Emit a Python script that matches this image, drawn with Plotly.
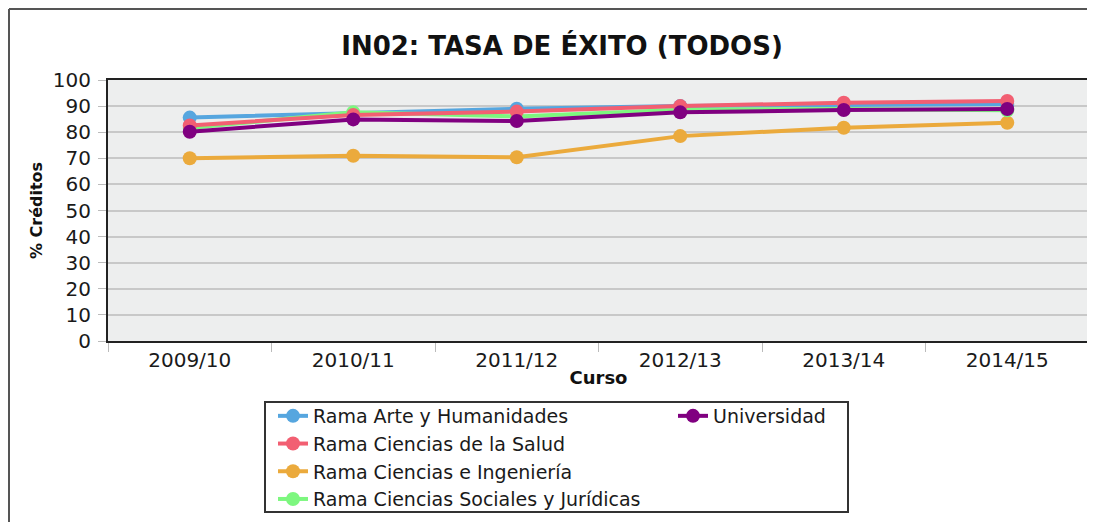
import plotly.graph_objects as go

cursos = ["2009/10", "2010/11", "2011/12", "2012/13", "2013/14", "2014/15"]

arte = [85.6, 87.2, 89.0, 90.0, 90.4, 90.8]
salud = [82.6, 86.6, 87.9, 90.0, 91.3, 92.0]
ingenieria = [70.0, 71.0, 70.4, 78.5, 81.7, 83.6]
sociales = [81.6, 87.6, 86.0, 88.6, 88.9, 88.4]
universidad = [80.2, 84.9, 84.3, 87.6, 88.5, 88.9]

series = [
    ("Rama Arte y Humanidades", arte, "#56A6DF", "legend"),
    ("Rama Ciencias de la Salud", salud, "#F25F72", "legend"),
    ("Rama Ciencias e Ingeniería", ingenieria, "#EBAA3C", "legend"),
    ("Rama Ciencias Sociales y Jurídicas", sociales, "#7DF77F", "legend"),
    ("Universidad", universidad, "#800080", "legend2"),
]

fig = go.Figure()
draw_order = [series[2], series[0], series[3], series[1], series[4]]
legend_rank = {s[0]: i for i, s in enumerate(series)}
for name, vals, color, leg in draw_order:
    fig.add_trace(go.Scatter(
        x=cursos, y=vals, name=name, mode="lines+markers",
        line=dict(color=color, width=4),
        marker=dict(color=color, size=14),
        legend=leg, legendrank=legend_rank[name],
    ))

# page has an 8px body margin: screen = figure + 8
OFF = 8
W, H = 1087, 514
L, T = 108 - OFF, 80 - OFF
R = W - (1089 - OFF)
B = H - (341 - OFF)
pw, ph = W - L - R, H - T - B

def px(sx):
    return (sx - OFF - L) / pw

def py(sy):
    return (H - B - (sy - OFF)) / ph

tick_font = dict(family="DejaVu Sans", size=20, color="#1a1a1a")
leg_font = dict(family="DejaVu Sans", size=19, color="#1a1a1a")
bold_font = "DejaVu Sans"

fig.update_layout(
    width=W, height=H,
    margin=dict(l=L, r=R, t=T, b=B, autoexpand=False),
    paper_bgcolor="white",
    plot_bgcolor="#EDEEEE",
    showlegend=True,
    title=dict(text="<b>IN02: TASA DE ÉXITO (TODOS)</b>", xref="container",
               x=(562 - OFF) / W, xanchor="center",
               y=1 - (46 - OFF) / H, yanchor="middle",
               font=dict(family=bold_font, size=26, color="#111111")),
    xaxis=dict(
        type="category", range=[-0.5, 5.5], tickson="boundaries",
        ticks="outside", ticklen=9, tickcolor="#bbbbbb", tickwidth=1,
        showgrid=False, showline=True, linecolor="#222222", linewidth=2, mirror=True,
        tickfont=tick_font,
        title=dict(text="<b>Curso</b>", standoff=0,
                   font=dict(family=bold_font, size=18, color="#111111")),
    ),
    yaxis=dict(
        range=[0, 100], dtick=10, ticks="outside", ticklen=8, tickcolor="#bbbbbb",
        showgrid=True, gridcolor="#C8C8C8", gridwidth=1.5, zeroline=False,
        showline=True, linecolor="#222222", linewidth=2, mirror=True,
        tickfont=tick_font, ticklabelstandoff=3,
        title=dict(text="<b>% Créditos</b>", standoff=6,
                   font=dict(family=bold_font, size=16, color="#111111")),
    ),
    legend=dict(x=px(273), y=py(397), xanchor="left", yanchor="top",
                orientation="v", font=leg_font, bgcolor="rgba(0,0,0,0)",
                tracegroupgap=0, traceorder="normal"),
    legend2=dict(x=px(673), y=py(397), xanchor="left", yanchor="top",
                 orientation="v", font=leg_font, bgcolor="rgba(0,0,0,0)"),
    shapes=[
        dict(type="rect", xref="paper", yref="paper",
             x0=px(265), x1=px(848), y0=py(512), y1=py(402),
             line=dict(color="#333333", width=2), fillcolor="rgba(0,0,0,0)"),
        dict(type="line", xref="paper", yref="paper",
             x0=px(9), x1=px(1100), y0=py(9), y1=py(9),
             line=dict(color="#555555", width=2)),
        dict(type="line", xref="paper", yref="paper",
             x0=px(9), x1=px(9), y0=py(9), y1=py(540),
             line=dict(color="#555555", width=2)),
    ],
)

fig.write_html("out.html")
